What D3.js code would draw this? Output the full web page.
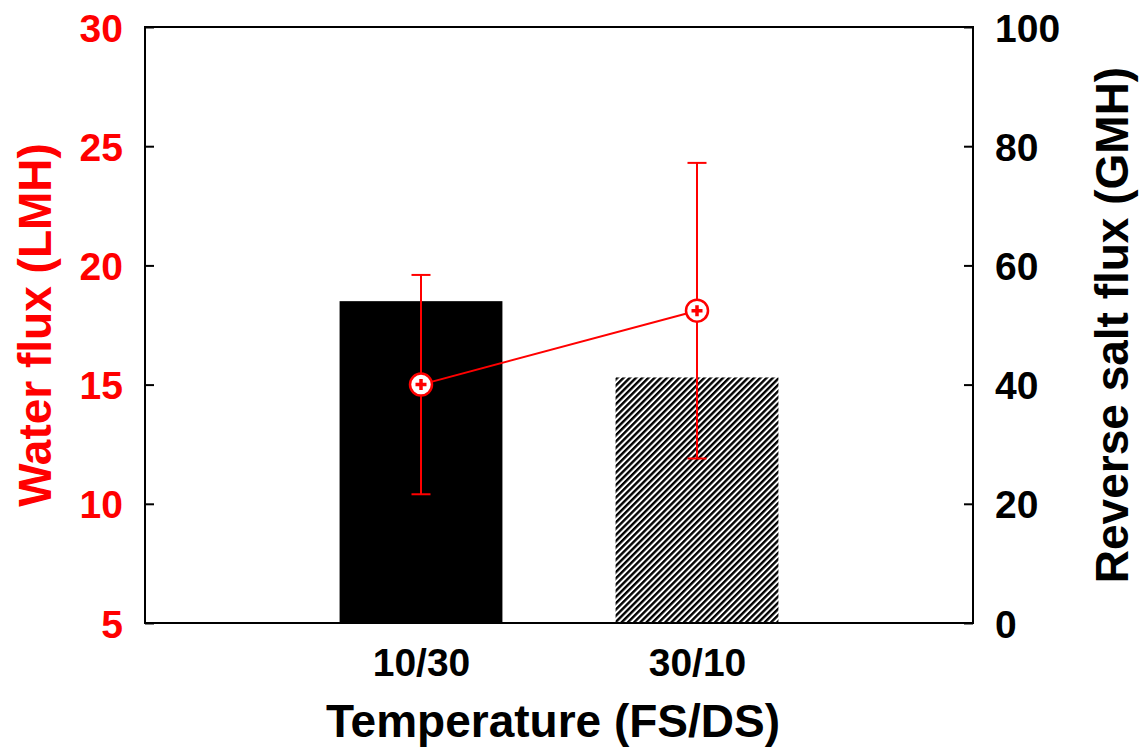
<!DOCTYPE html>
<html>
<head>
<meta charset="utf-8">
<script src="https://cdn.jsdelivr.net/npm/d3@7"></script>
<style>
  body { margin: 0; background: #fff; }
  svg text { font-family: "Liberation Sans", Arial, sans-serif; font-weight: bold; }
</style>
</head>
<body>
<div id="chart"></div>
<script>
// Data
const categories = ["10/30", "30/10"];
const saltFlux = [54.0, 41.2];        // GMH, right axis (bars)
const waterFlux = [15.0, 18.1];       // LMH, left axis (points)
const waterErr = [4.6, 6.2];          // LMH, +/- error
const leftTicks = [5, 10, 15, 20, 25, 30];
const rightTicks = [0, 20, 40, 60, 80, 100];

const width = 1143, height = 747;
const margin = { top: 27, right: 170, bottom: 124, left: 145 };
const plotW = width - margin.left - margin.right;
const plotH = height - margin.top - margin.bottom;

const svg = d3.select("#chart")
    .append("svg")
    .attr("width", width)
    .attr("height", height);

// hatch pattern for the second bar
const defs = svg.append("defs");
defs.append("pattern")
    .attr("id", "hatch")
    .attr("patternUnits", "userSpaceOnUse")
    .attr("width", 4.4)
    .attr("height", 4.4)
    .attr("patternTransform", "rotate(45)")
    .append("rect")
    .attr("x", 0).attr("y", 0)
    .attr("width", 2.4).attr("height", 4.4)
    .attr("fill", "#000");

const g = svg.append("g")
    .attr("transform", `translate(${margin.left},${margin.top})`);

// scales
const xScale = d3.scalePoint()
    .domain(categories)
    .range([0, plotW])
    .padding(1);

const barW = xScale.step() * 0.59;

const yLeft = d3.scaleLinear()
    .domain([5, 30])
    .range([plotH, 0]);

const yRight = d3.scaleLinear()
    .domain([0, 100])
    .range([plotH, 0]);

// bars (reverse salt flux)
g.selectAll(".bar")
    .data(categories)
    .enter().append("rect")
    .attr("class", "bar")
    .attr("x", d => xScale(d) - barW / 2)
    .attr("width", barW)
    .attr("y", (d, i) => yRight(saltFlux[i]))
    .attr("height", (d, i) => plotH - yRight(saltFlux[i]))
    .attr("fill", (d, i) => i === 0 ? "#000" : "url(#hatch)");

// frame
g.append("rect")
    .attr("width", plotW)
    .attr("height", plotH)
    .attr("fill", "none")
    .attr("stroke", "#000")
    .attr("stroke-width", 2);

// left axis (ticks inside)
const leftAxis = g.append("g")
    .call(d3.axisLeft(yLeft).tickValues(leftTicks).tickSizeInner(-9).tickSizeOuter(0).tickPadding(22));
leftAxis.select(".domain").remove();
leftAxis.selectAll("line").attr("stroke", "#000").attr("stroke-width", 2);
leftAxis.selectAll("text")
    .attr("fill", "#ff0000")
    .style("font-size", "39px")
    .attr("dy", "0.36em");

// right axis (ticks inside)
const rightAxis = g.append("g")
    .attr("transform", `translate(${plotW},0)`)
    .call(d3.axisRight(yRight).tickValues(rightTicks).tickSizeInner(-9).tickSizeOuter(0).tickPadding(22));
rightAxis.select(".domain").remove();
rightAxis.selectAll("line").attr("stroke", "#000").attr("stroke-width", 2);
rightAxis.selectAll("text")
    .attr("fill", "#000")
    .style("font-size", "39px")
    .attr("dy", "0.36em");

// bottom axis labels
const bottomAxis = g.append("g")
    .attr("transform", `translate(0,${plotH})`)
    .call(d3.axisBottom(xScale).tickSize(0).tickPadding(25));
bottomAxis.select(".domain").remove();
bottomAxis.selectAll("text")
    .attr("fill", "#000")
    .style("font-size", "39px")
    .attr("dy", "0.71em");

// water flux line
const line = d3.line()
    .x((d, i) => xScale(categories[i]))
    .y(d => yLeft(d));

g.append("path")
    .datum(waterFlux)
    .attr("d", line)
    .attr("fill", "none")
    .attr("stroke", "#ff0000")
    .attr("stroke-width", 2);

// error bars
const errG = g.selectAll(".err")
    .data(waterFlux)
    .enter().append("g")
    .attr("class", "err")
    .attr("stroke", "#ff0000")
    .attr("stroke-width", 2);

errG.append("line")
    .attr("x1", (d, i) => xScale(categories[i]))
    .attr("x2", (d, i) => xScale(categories[i]))
    .attr("y1", (d, i) => yLeft(d + waterErr[i]))
    .attr("y2", (d, i) => yLeft(d - waterErr[i]));

errG.append("line")
    .attr("x1", (d, i) => xScale(categories[i]) - 9.5)
    .attr("x2", (d, i) => xScale(categories[i]) + 9.5)
    .attr("y1", (d, i) => yLeft(d + waterErr[i]))
    .attr("y2", (d, i) => yLeft(d + waterErr[i]));

errG.append("line")
    .attr("x1", (d, i) => xScale(categories[i]) - 9.5)
    .attr("x2", (d, i) => xScale(categories[i]) + 9.5)
    .attr("y1", (d, i) => yLeft(d - waterErr[i]))
    .attr("y2", (d, i) => yLeft(d - waterErr[i]));

// markers: open circle with a small plus
const marker = g.selectAll(".marker")
    .data(waterFlux)
    .enter().append("g")
    .attr("class", "marker")
    .attr("transform", (d, i) => `translate(${xScale(categories[i])},${yLeft(d)})`);

marker.append("circle")
    .attr("r", 11)
    .attr("fill", "#fff")
    .attr("stroke", "#ff0000")
    .attr("stroke-width", 2.5);

marker.append("path")
    .attr("d", "M-5.5,0H5.5M0,-5.5V5.5")
    .attr("stroke", "#ff0000")
    .attr("stroke-width", 3.5);

// axis titles
svg.append("text")
    .attr("transform", `translate(553,737)`)
    .attr("text-anchor", "middle")
    .attr("fill", "#000")
    .style("font-size", "46px")
    .text("Temperature (FS/DS)");

svg.append("text")
    .attr("transform", `translate(51,${margin.top + plotH / 2}) rotate(-90)`)
    .attr("text-anchor", "middle")
    .attr("fill", "#ff0000")
    .style("font-size", "46px")
    .text("Water flux (LMH)");

svg.append("text")
    .attr("transform", `translate(1128,${margin.top + plotH / 2}) rotate(-90)`)
    .attr("text-anchor", "middle")
    .attr("fill", "#000")
    .style("font-size", "46px")
    .text("Reverse salt flux (GMH)");
</script>
</body>
</html>
